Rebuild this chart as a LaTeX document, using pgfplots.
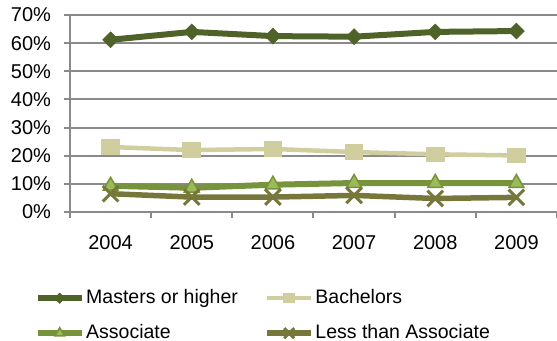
\documentclass[border=0pt]{standalone}
\usepackage{pgfplots}
\pgfplotsset{compat=1.18}
\usepackage{fontspec}
\setmainfont{Liberation Sans}
\definecolor{cMast}{HTML}{4F6228}
\definecolor{cBach}{HTML}{D0CE9E}
\definecolor{cAssoc}{HTML}{77933C}
\definecolor{cAssocF}{HTML}{9BBB59}
\definecolor{cLess}{HTML}{77773C}
\definecolor{cGrid}{HTML}{8A8A8A}
\begin{document}
\begin{tikzpicture}
\begin{axis}[
  name=ax,
  scale only axis,
  width=487bp, height=197bp,
  xmin=-0.5, xmax=5.5,
  ymin=0, ymax=70,
  axis x line*=bottom, axis y line*=left,
  axis line style={-, draw=cGrid, line width=2bp},
  xtick={0,...,5},
  xticklabels={2004,2005,2006,2007,2008,2009},
  minor xtick={-0.5,0.5,...,5.5},
  major x tick style={draw=none},
  ytick={0,10,...,70},
  yticklabel={\pgfmathprintnumber{\tick}\%},
  /pgf/number format/assume math mode=true,
  tick align=outside,
  major tick length=6bp, minor tick length=6bp,
  tick style={draw=cGrid, line width=2bp},
  ymajorgrids,
  grid style={draw=cGrid, line width=2bp},
  ticklabel style={font=\fontsize{20bp}{23bp}\selectfont},
  xticklabel style={yshift=-14bp},
  yticklabel style={xshift=-9.5bp},
  clip=false,
  legend columns=2,
  legend cell align=left,
  legend style={draw=none, fill=none, inner sep=0pt,
    at={(axis description cs:0,0)}, anchor=north west,
    xshift=-35.5bp, yshift=-75.5bp,
    font=\fontsize{19.5bp}{22bp}\selectfont,
    nodes={inner sep=1.5bp, text height=14bp, text depth=4bp},
    row sep=14bp,
    /tikz/every even column/.append style={column sep=25bp}},
  legend image code/.code={
    \draw[#1, every mark/.append style={scale=0.65}, mark repeat=2, mark phase=2] plot coordinates {(0bp,0bp) (22bp,0bp) (44bp,0bp)};
  },
]
\addplot[cMast, line width=6bp, mark=diamond*, mark size=8bp, mark options={solid, fill=cMast, xscale=1.33, line width=0.5bp}]
  coordinates {(0,61.2) (1,64.0) (2,62.5) (3,62.3) (4,64.0) (5,64.3)};
\addlegendentry{Masters or higher}
\addplot[cBach, line width=4.5bp, mark=square*, mark size=8bp, mark options={solid, fill=cBach, line width=1bp, xscale=1.1, yscale=0.9, rounded corners=2bp}]
  coordinates {(0,23.1) (1,22.0) (2,22.4) (3,21.3) (4,20.5) (5,20.1)};
\addlegendentry{Bachelors}
\addplot[cAssoc, line width=6bp, mark=triangle*, mark size=8.5bp, mark options={solid, fill=cAssocF, draw=cAssoc, line width=1.5bp}]
  coordinates {(0,9.3) (1,8.6) (2,9.7) (3,10.3) (4,10.3) (5,10.3)};
\addlegendentry{Associate}
\addplot[cLess, line width=5.5bp, mark=x, mark size=11bp, mark options={solid, line width=3bp}]
  coordinates {(0,6.5) (1,5.3) (2,5.3) (3,5.9) (4,4.8) (5,5.2)};
\addlegendentry{Less than Associate}
\end{axis}
\pgfresetboundingbox
\useasboundingbox ([shift={(-70bp,-129bp)}]ax.south west) rectangle ([shift={(487bp,212bp)}]ax.south west);
\end{tikzpicture}
\end{document}
